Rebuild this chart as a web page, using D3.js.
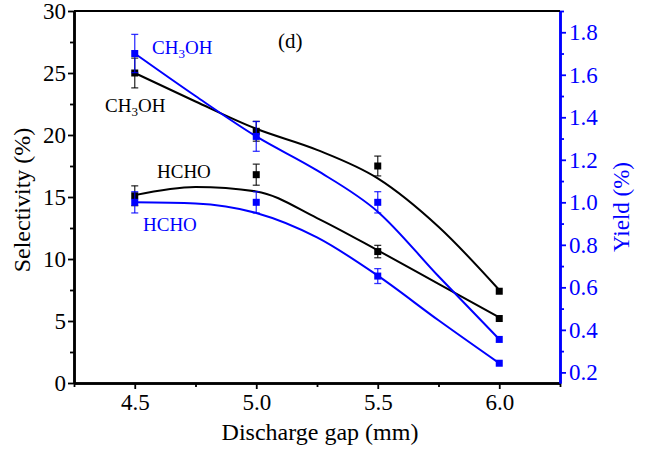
<!DOCTYPE html>
<html>
<head>
<meta charset="utf-8">
<script src="https://cdn.jsdelivr.net/npm/d3@7"></script>
<style>
  html, body { margin: 0; padding: 0; background: #fff; }
  svg { display: block; }
</style>
</head>
<body>
<div id="chart"></div>
<script>
// ---- data ----
const gaps = [4.5, 5.0, 5.5, 6.0];
const selCH3OH = [25.0, 20.3, 17.5, 7.4];
const selCH3OHErr = [1.2, 0.8, 0.8, 0];
const selHCHO = [15.1, 16.8, 10.6, 5.2];
const selHCHOErr = [0.8, 0.85, 0.5, 0];
const yieldCH3OH = [1.70, 1.31, 1.00, 0.355];
const yieldCH3OHErr = [0.09, 0.07, 0.05, 0];
const yieldHCHO = [1.00, 1.00, 0.653, 0.243];
const yieldHCHOErr = [0.05, 0.05, 0.035, 0];

// fitted curves
const fitGaps = [4.5, 4.75, 5.0, 5.25, 5.5, 5.75, 6.0];
const fitSelCH3OH = [25.0, 22.7, 20.5, 18.8, 16.5, 12.6, 7.5];
const fitSelHCHO = [15.15, 15.8, 15.45, 13.3, 10.7, 8.0, 5.3];
const fitYieldCH3OH = [1.70, 1.50, 1.31, 1.15, 0.956, 0.652, 0.356];
const fitYieldHCHO = [1.0, 0.995, 0.95, 0.835, 0.655, 0.445, 0.243];

const xTicks = [4.5, 5.0, 5.5, 6.0];
const xMinor = [4.25, 4.75, 5.25, 5.75, 6.25];
const yLTicks = [0, 5, 10, 15, 20, 25, 30];
const yLMinor = [2.5, 7.5, 12.5, 17.5, 22.5, 27.5];
const yRTicks = [0.2, 0.4, 0.6, 0.8, 1.0, 1.2, 1.4, 1.6, 1.8];
const yRMinor = [0.3, 0.5, 0.7, 0.9, 1.1, 1.3, 1.5, 1.7, 1.9];

const BLUE = "#0000ff", BLACK = "#000000";
const FONT = "'Liberation Serif', 'Times New Roman', Times, serif";

const W = 645, H = 450;
const L = 74, R = 560, T = 11, B = 383;

const svg = d3.select("#chart").append("svg").attr("width", W).attr("height", H)
  .style("font-family", FONT);
svg.append("rect").attr("width", W).attr("height", H).attr("fill", "#fff");

const x = d3.scaleLinear().domain([4.25, 6.25]).range([L, R]);
const yL = d3.scaleLinear().domain([0, 30]).range([B, T]);
const yR = d3.scaleLinear().domain([0.15, 1.9]).range([B, T]);

// ---- axes ----
function styleAxis(g, color, w) {
  g.attr("font-family", null).style("font-family", FONT);
  g.select(".domain").attr("stroke", color).attr("stroke-width", w);
  g.selectAll(".tick line").attr("stroke", color).attr("stroke-width", 1.8);
  g.selectAll(".tick text").attr("fill", color).attr("font-size", 23)
    .style("font-family", FONT);
}

// bottom
const gxMin = svg.append("g").attr("transform", `translate(0,${B})`)
  .call(d3.axisBottom(x).tickValues(xMinor).tickSize(4).tickSizeOuter(0).tickFormat(""));
styleAxis(gxMin, BLACK, 2.5);
const gx = svg.append("g").attr("transform", `translate(0,${B})`)
  .call(d3.axisBottom(x).tickValues(xTicks).tickSize(6).tickSizeOuter(0).tickPadding(5).tickFormat(d3.format(".1f")));
styleAxis(gx, BLACK, 2.5);

// left
const gyMin = svg.append("g").attr("transform", `translate(${L},0)`)
  .call(d3.axisLeft(yL).tickValues(yLMinor).tickSize(4).tickSizeOuter(0).tickFormat(""));
styleAxis(gyMin, BLACK, 2.5);
const gy = svg.append("g").attr("transform", `translate(${L},0)`)
  .call(d3.axisLeft(yL).tickValues(yLTicks).tickSize(6).tickSizeOuter(0).tickPadding(2).tickFormat(d3.format("d")));
styleAxis(gy, BLACK, 2.5);

// right
const grMin = svg.append("g").attr("transform", `translate(${R},0)`)
  .call(d3.axisRight(yR).tickValues(yRMinor).tickSize(4).tickSizeOuter(0).tickFormat(""));
styleAxis(grMin, BLUE, 2.5);
const gr = svg.append("g").attr("transform", `translate(${R},0)`)
  .call(d3.axisRight(yR).tickValues(yRTicks).tickSize(6).tickSizeOuter(0).tickPadding(3).tickFormat(d3.format(".1f")));
styleAxis(gr, BLUE, 2.5);

// top frame
svg.append("line").attr("x1", L).attr("x2", R).attr("y1", T).attr("y2", T)
  .attr("stroke", BLACK).attr("stroke-width", 2);

// axis titles
svg.append("text").attr("x", (L + R) / 2 + 3).attr("y", 440).attr("text-anchor", "middle")
  .attr("font-size", 24).attr("fill", BLACK).style("font-family", FONT).text("Discharge gap (mm)");
svg.append("text").attr("transform", `translate(30,${(T + B) / 2 + 3}) rotate(-90)`)
  .attr("text-anchor", "middle").attr("font-size", 24).attr("fill", BLACK).style("font-family", FONT).text("Selectivity (%)");
svg.append("text").attr("transform", `translate(629,${(T + B) / 2 + 10}) rotate(-90)`)
  .attr("text-anchor", "middle").attr("font-size", 23).attr("fill", BLUE).style("font-family", FONT).text("Yield (%)");

// ---- series ----
const series = [
  { vals: selCH3OH, err: selCH3OHErr, fit: fitSelCH3OH, y: yL, color: BLACK },
  { vals: selHCHO, err: selHCHOErr, fit: fitSelHCHO, y: yL, color: BLACK },
  { vals: yieldCH3OH, err: yieldCH3OHErr, fit: fitYieldCH3OH, y: yR, color: BLUE },
  { vals: yieldHCHO, err: yieldHCHOErr, fit: fitYieldHCHO, y: yR, color: BLUE }
];

series.forEach(s => {
  const line = d3.line().x((d, i) => x(fitGaps[i])).y(d => s.y(d)).curve(d3.curveMonotoneX);
  svg.append("path").attr("d", line(s.fit)).attr("fill", "none")
    .attr("stroke", s.color).attr("stroke-width", 2);
});

series.forEach(s => {
  const g = svg.append("g");
  gaps.forEach((gv, i) => {
    const e = s.err[i];
    if (e > 0) {
      const cx = x(gv), y1 = s.y(s.vals[i] + e), y2 = s.y(s.vals[i] - e);
      g.append("line").attr("x1", cx).attr("x2", cx).attr("y1", y1).attr("y2", y2)
        .attr("stroke", s.color).attr("stroke-width", 1.3).attr("stroke-opacity", 0.8);
      [y1, y2].forEach(yy => g.append("line").attr("x1", cx - 3.5).attr("x2", cx + 3.5)
        .attr("y1", yy).attr("y2", yy).attr("stroke", s.color).attr("stroke-width", 1.3).attr("stroke-opacity", 0.8));
    }
    g.append("rect").attr("x", x(gv) - 3.5).attr("y", s.y(s.vals[i]) - 3.5)
      .attr("width", 7).attr("height", 7).attr("fill", s.color);
  });
});

// ---- labels ----
function chem(xp, yp, color, parts) {
  const t = svg.append("text").attr("x", xp).attr("y", yp).attr("font-size", 19)
    .attr("fill", color).style("font-family", FONT);
  parts.forEach(p => {
    const ts = t.append("tspan").text(p.t);
    if (p.sub) ts.attr("font-size", 13).attr("dy", 4);
    if (p.up) ts.attr("dy", -4);
  });
}
chem(152, 54, BLUE, [{ t: "CH" }, { t: "3", sub: true }, { t: "OH", up: true }]);
chem(105, 112, BLACK, [{ t: "CH" }, { t: "3", sub: true }, { t: "OH", up: true }]);
chem(157, 178, BLACK, [{ t: "HCHO" }]);
chem(143, 231, BLUE, [{ t: "HCHO" }]);
svg.append("text").attr("x", 278).attr("y", 48).attr("font-size", 21).attr("fill", BLACK)
  .style("font-family", FONT).text("(d)");
</script>
</body>
</html>
